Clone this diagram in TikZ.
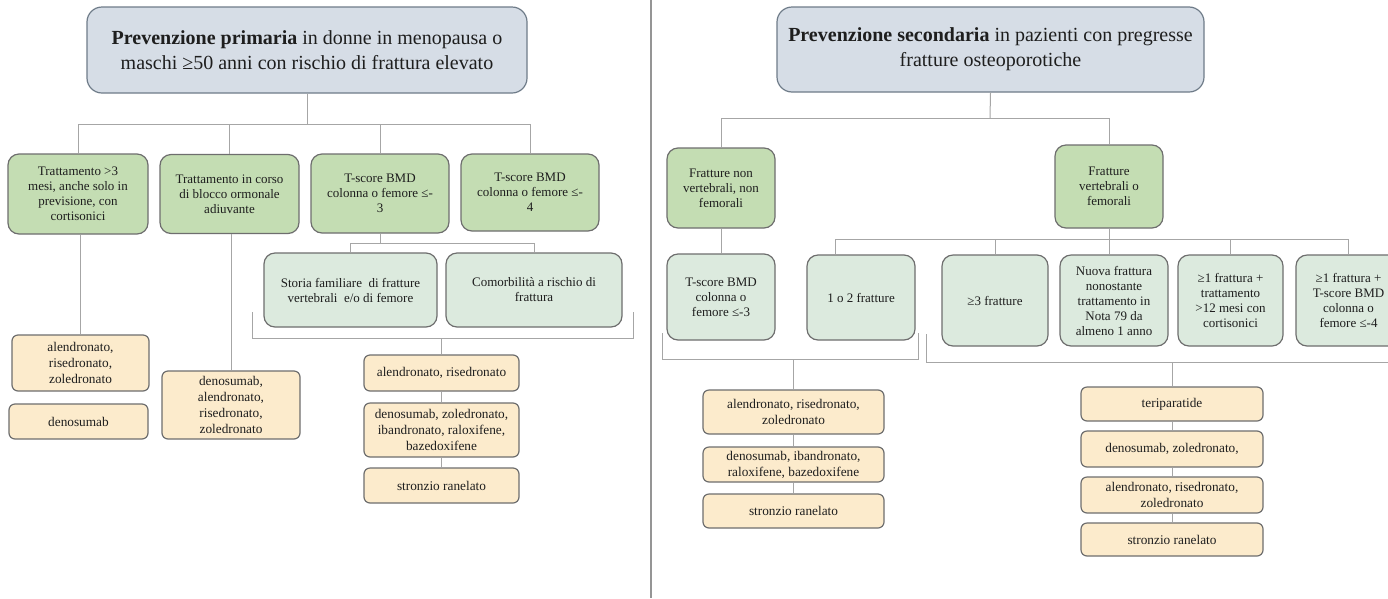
\documentclass[tikz,border=0pt]{standalone}
\usepackage{fontspec}
\setmainfont{Liberation Serif}
\definecolor{titlefill}{HTML}{D6DDE6}
\definecolor{titledraw}{HTML}{6F7C89}
\definecolor{greenfill}{HTML}{C4DDB3}
\definecolor{mintfill}{HTML}{DCEADE}
\definecolor{drugfill}{HTML}{FCEBCC}
\definecolor{boxdraw}{HTML}{6E6E6E}
\definecolor{linkgray}{HTML}{A6A6A6}
\definecolor{textc}{HTML}{1E1E1E}
\tikzset{
  sz/.style 2 args={minimum width=#1pt, minimum height=#2pt},
  box/.style={draw=boxdraw, line width=1.2pt, align=center, inner sep=1pt,
    text=textc, font=\fontsize{13}{15}\selectfont},
  ttl/.style={box, draw=titledraw, fill=titlefill, rounded corners=15pt,
    font=\fontsize{20}{25}\selectfont},
  lvtwo/.style={box, fill=greenfill, rounded corners=11pt},
  lvthree/.style={box, fill=mintfill, rounded corners=11pt},
  drug/.style={box, fill=drugfill, rounded corners=6pt,
    font=\fontsize{13.3}{16}\selectfont},
  link/.style={draw=linkgray, line width=1pt},
  divider/.style={draw=linkgray!90!black, line width=1.4pt},
}
\begin{document}
\begin{tikzpicture}[x=1pt,y=-1pt]
\useasboundingbox[fill=white] (0,0) rectangle (1388,598);

% ---------- separator between the two trees ----------
\coordinate (sepTop) at (651,0);
\coordinate (sepBot) at (651,598);
\draw[divider] (sepTop) -- (sepBot);

% ================= primary prevention =================
\node[ttl, sz={440}{86}] (T1) at (307,50)
  {\textbf{Prevenzione primaria} in donne in menopausa o\\
   maschi ≥50 anni con rischio di frattura elevato};

\node[lvtwo, sz={140}{80}] (A1) at (78,194)
  {Trattamento >3\\mesi, anche solo in\\previsione, con\\cortisonici};
\node[lvtwo, sz={139}{79}] (A2) at (229.5,194)
  {Trattamento in corso\\di blocco ormonale\\adiuvante};
\node[lvtwo, sz={138}{79}] (A3) at (380,193.5)
  {T-score BMD\\colonna o femore ≤-\\3};
\node[lvtwo, sz={138}{77}] (A4) at (530,192.5)
  {T-score BMD\\colonna o femore ≤-\\4};

\node[lvthree, sz={173}{74}] (B1) at (350.5,290)
  {Storia familiare~ di fratture\\vertebrali~ e/o di femore};
\node[lvthree, sz={176}{74}] (B2) at (534,290)
  {Comorbilità a rischio di\\frattura};

\node[drug, sz={137}{56}] (D1) at (80.5,363)
  {alendronato,\\risedronato,\\zoledronato};
\node[drug, sz={139}{35}] (D2) at (78.5,421.5) {denosumab};
\node[drug, sz={138}{68}] (D3) at (231,405)
  {denosumab,\\alendronato,\\risedronato,\\zoledronato};

\node[drug, sz={155}{36}] (D4) at (441.5,373) {alendronato, risedronato};
\node[drug, sz={155}{54}] (D5) at (441.5,430)
  {denosumab, zoledronato,\\ibandronato, raloxifene,\\bazedoxifene};
\node[drug, sz={155}{35}] (D6) at (441.5,485.5) {stronzio ranelato};

% connectors
\coordinate (busL) at (307,124);
\draw[link] (T1.south) -- (busL);
\draw[link] (A1.north) -- (A1.north |- busL) -- (A4.north |- busL) -- (A4.north);
\draw[link] (A2.north) -- (A2.north |- busL);
\draw[link] (A3.north) -- (A3.north |- busL);

\draw[link] (D1.north) -- (D1.north |- A1.south);
\draw[link] (D3.north) -- (D3.north |- A2.south);

\coordinate (busB) at (380,243);
\draw[link] (A3.south) -- (busB);
\draw[link] (B1.north) -- (B1.north |- busB) -- (B2.north |- busB) -- (B2.north);

\coordinate (brLa) at (252,312);
\coordinate (brLb) at (633,312);
\coordinate (brLc) at (252,338);
\draw[link] (brLa) -- (brLc) -- (brLc -| brLb) -- (brLb);
\draw[link] (D4.north) -- (D4.north |- brLc);
\draw[link] (D4) -- (D5) -- (D6);

% ================= secondary prevention =================
\node[ttl, sz={427}{85}] (T2) at (990.5,49.5)
  {\textbf{Prevenzione secondaria} in pazienti con pregresse\\
   fratture osteoporotiche};

\node[lvtwo, sz={108}{80}] (C1) at (721,188)
  {Fratture non\\vertebrali, non\\femorali};
\node[lvtwo, sz={108}{83}] (C2) at (1109,186.5)
  {Fratture\\vertebrali o\\femorali};

\node[lvthree, sz={108}{86}] (E1) at (721,297)
  {T-score BMD\\colonna o\\femore ≤-3};
\node[lvthree, sz={108}{85}] (E2) at (861,297.5) {1 o 2 fratture};
\node[lvthree, sz={106}{91}] (E3) at (995,300.5) {≥3 fratture};
\node[lvthree, sz={108}{91}] (E4) at (1114,300.5)
  {Nuova frattura\\nonostante\\trattamento in\\Nota 79 da\\almeno 1 anno};
\node[lvthree, sz={105}{91}] (E5) at (1230.5,300.5)
  {≥1 frattura +\\trattamento\\>12 mesi con\\cortisonici};
\node[lvthree, sz={105}{91}] (E6) at (1348.5,300.5)
  {≥1 frattura +\\T-score BMD\\colonna o\\femore ≤-4};

\node[drug, sz={181}{44}] (F1) at (793.5,412)
  {alendronato, risedronato,\\zoledronato};
\node[drug, sz={181}{35}] (F2) at (793.5,464.5)
  {denosumab, ibandronato,\\raloxifene, bazedoxifene};
\node[drug, sz={181}{34}] (F3) at (793.5,511) {stronzio ranelato};

\node[drug, sz={182}{34}] (G1) at (1172,404) {teriparatide};
\node[drug, sz={182}{36}] (G2) at (1172,449) {denosumab, zoledronato,};
\node[drug, sz={182}{36}] (G3) at (1172,495)
  {alendronato, risedronato,\\zoledronato};
\node[drug, sz={182}{33}] (G4) at (1172,539.5) {stronzio ranelato};

% connectors
\coordinate (busR) at (990,118);
\draw[link] (T2.south) -- (busR);
\draw[link] (C1.north) -- (C1.north |- busR) -- (C2.north |- busR) -- (C2.north);
\draw[link] (E1.north) -- (E1.north |- C1.south);

\coordinate (busE) at (1109,239);
\draw[link] (C2.south) -- (C2.south |- E4.north);
\draw[link] ([xshift=-26pt]E2.north) -- ([xshift=-26pt]E2.north |- busE)
  -- (E6.north |- busE) -- (E6.north);
\draw[link] (E3.north) -- (E3.north |- busE);
\draw[link] (E5.north) -- (E5.north |- busE);

\coordinate (brRa) at (662,333);
\coordinate (brRb) at (918,333);
\coordinate (brRc) at (662,359);
\draw[link] (brRa) -- (brRc) -- (brRc -| brRb) -- (brRb);
\draw[link] (F1.north) -- (F1.north |- brRc);
\draw[link] (F1) -- (F2) -- (F3);

\coordinate (brSa) at (926,334);
\coordinate (brSb) at (1394,334);
\coordinate (brSc) at (926,362);
\draw[link] (brSa) -- (brSc) -- (brSc -| brSb) -- (brSb);
\draw[link] (G1.north) -- (G1.north |- brSc);
\draw[link] (G1) -- (G2) -- (G3) -- (G4);
\end{tikzpicture}
\end{document}
